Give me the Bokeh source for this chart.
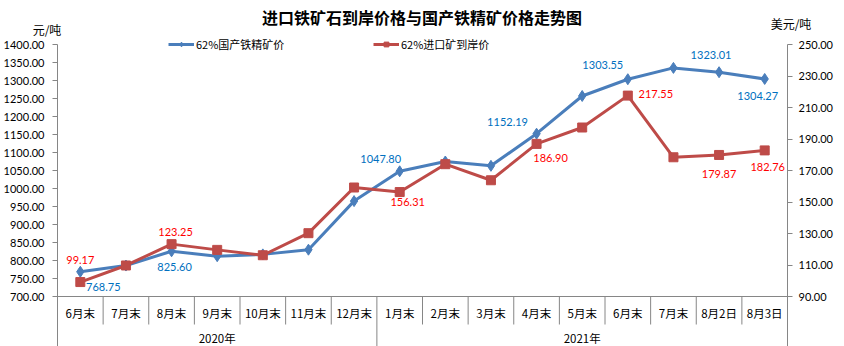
from bokeh.plotting import figure
from bokeh.layouts import column
from bokeh.models import (ColumnDataSource, FactorRange, Range1d, LinearAxis, FixedTicker,
                          NumeralTickFormatter, Span, Legend, LegendItem, Div)
from bokeh.embed import file_html
from bokeh.resources import INLINE
from bokeh.core.properties import value

# ---------------- data ----------------
title_text = "进口铁矿石到岸价格与国产铁精矿价格走势图"
years = ["2020年"] * 7 + ["2021年"] * 9
year_names = ["2020年", "2021年"]
months = ["6月末", "7月末", "8月末", "9月末", "10月末", "11月末", "12月末",
          "1月末", "2月末", "3月末", "4月末", "5月末", "6月末", "7月末", "8月2日", "8月3日"]
domestic = [768.75, 786.0, 825.60, 812.0, 817.0, 830.0, 965.0, 1047.80,
            1075.0, 1063.0, 1152.19, 1257.0, 1303.55, 1335.0, 1323.01, 1304.27]
imported = [99.17, 109.7, 123.25, 119.6, 116.2, 130.2, 159.2, 156.31,
            174.0, 163.8, 186.90, 197.3, 217.55, 178.4, 179.87, 182.76]
labeled_idx = [0, 2, 7, 10, 12, 14, 15]
left_ticks = list(range(700, 1401, 50))
right_ticks = list(range(90, 251, 20))
domestic_name = "62%国产铁精矿价"
imported_name = "62%进口矿到岸价"
left_unit = "元/吨"
right_unit = "美元/吨"

# ---------------- styling ----------------
BLUE = "#4A7EBB"
RED = "#BE4B48"
BLUE_TXT = "#0070C0"
RED_TXT = "#FF0000"
GRAY = "#868686"
CJK = "Noto Sans CJK SC"
NUM = "Lato"
W = 844
TOP_H = 36            # header strip height
MAIN_H = 346 - TOP_H  # main figure height (frame fills it vertically)
PAD_TOP = 44 - TOP_H  # px between frame top and the 1400 / 250 tick
PLOT_H = 252          # px from 700 to 1400
TABLE_H = 50          # category table height below the value axis
# label offsets in screen px (dx, dy; dy positive = downward)
dom_off = [(23, 15), (3, 16), (-19, -12), (-29, -12), (-25, -14), (-8, -17), (-7, 17)]
imp_off = [(0, -22), (4, -12), (8, 10), (14, 14), (28, -2), (0, 19), (3, 17)]

# ---------------- header strip (title + units) ----------------
def span(txt, left, width, top, size, bold=False, align="center"):
    return ('<span style="position:absolute;left:%dpx;width:%dpx;top:%dpx;line-height:%dpx;'
            'font-size:%dpx;font-weight:%s;text-align:%s;white-space:nowrap;color:#000;">%s</span>'
            % (left, width, top, size + 2, size, "bold" if bold else "normal", align, txt))

header_html = ('<div style="position:relative;width:%dpx;height:%dpx;font-family:\'%s\';">' % (W, TOP_H, CJK)
               + span(title_text, 0, W, 8, 16, bold=True)
               + span(left_unit, 17, 60, 23, 12)
               + span(right_unit, 761, 60, 17, 12)
               + '</div>')
header = Div(text=header_html, width=W, height=TOP_H, margin=0,
             styles={"overflow": "visible"})

# ---------------- main chart ----------------
factors = list(zip(years, months))
x_range = FactorRange(*factors, factor_padding=0, group_padding=0, range_padding=0)

lk = 700 / PLOT_H
rk = 160 / PLOT_H
p = figure(width=W, height=MAIN_H, x_range=x_range,
           y_range=Range1d(700 - TABLE_H * lk, 1400 + PAD_TOP * lk),
           output_backend="svg", toolbar_location=None, x_axis_location=None,
           min_border_left=57, min_border_right=57, min_border_top=0, min_border_bottom=0,
           margin=0)
p.extra_y_ranges = {"usd": Range1d(90 - TABLE_H * rk, 250 + PAD_TOP * rk),
                    "tbl": Range1d(-TABLE_H, PLOT_H + PAD_TOP)}
p.grid.visible = False
p.outline_line_color = None

def style_axis(ax):
    ax.axis_line_color = GRAY
    ax.major_tick_line_color = GRAY
    ax.major_tick_out = 5
    ax.major_tick_in = 0
    ax.minor_tick_line_color = None
    ax.major_label_text_font = NUM
    ax.major_label_text_font_size = "11px"
    ax.major_label_text_color = "black"
    ax.major_label_standoff = 8
    ax.formatter = NumeralTickFormatter(format="0.00")

p.yaxis.ticker = FixedTicker(ticks=left_ticks)
style_axis(p.yaxis[0])
p.yaxis.bounds = (700 - TABLE_H * lk, 1400)
ax_r = LinearAxis(y_range_name="usd", ticker=FixedTicker(ticks=right_ticks),
                  bounds=(90 - TABLE_H * rk, 250))
style_axis(ax_r)
ax_r.major_label_standoff = 6
p.add_layout(ax_r, "right")

# category axis line
p.add_layout(Span(location=700, dimension="width", line_color=GRAY, line_width=1))

# category table separators
sep_x, sep_y0, sep_y1 = [], [], []
for i in range(1, len(months)):
    sep_x.append((years[i], months[i], -0.5))
    sep_y0.append(0)
    sep_y1.append(-TABLE_H if years[i] != years[i - 1] else -28)
p.segment(x0=sep_x, x1=sep_x, y0=sep_y0, y1=sep_y1, y_range_name="tbl",
          line_color=GRAY, line_width=1)
p.text(x=factors, y=[-16] * len(months), text=months, y_range_name="tbl",
       text_font=value(CJK), text_font_size="11.5px", text_align="center",
       text_baseline="middle", text_color="black")
p.text(x=year_names, y=[-41] * 2, text=year_names, y_range_name="tbl",
       text_font=value(CJK), text_font_size="11.5px", text_align="center",
       text_baseline="middle", text_color="black")

# series
src = ColumnDataSource(dict(x=factors, dom=domestic, imp=imported))
l1 = p.line("x", "dom", source=src, line_color=BLUE, line_width=3)
s1 = p.scatter("x", "dom", source=src, marker="diamond", size=11, fill_color=BLUE, line_color=BLUE)
l2 = p.line("x", "imp", source=src, y_range_name="usd", line_color=RED, line_width=3)
s2 = p.scatter("x", "imp", source=src, y_range_name="usd", marker="square", size=9,
               fill_color=RED, line_color=RED)

# data labels
dsrc = ColumnDataSource(dict(
    x=[factors[i] for i in labeled_idx], y=[domestic[i] for i in labeled_idx],
    t=["%.2f" % domestic[i] for i in labeled_idx],
    dx=[o[0] for o in dom_off], dy=[o[1] for o in dom_off]))
p.text(x="x", y="y", text="t", x_offset="dx", y_offset="dy", source=dsrc,
       text_font=value(NUM), text_font_size="11px", text_color=BLUE_TXT,
       text_align="center", text_baseline="middle")
isrc = ColumnDataSource(dict(
    x=[factors[i] for i in labeled_idx], y=[imported[i] for i in labeled_idx],
    t=["%.2f" % imported[i] for i in labeled_idx],
    dx=[o[0] for o in imp_off], dy=[o[1] for o in imp_off]))
p.text(x="x", y="y", text="t", x_offset="dx", y_offset="dy", source=isrc, y_range_name="usd",
       text_font=value(NUM), text_font_size="11px", text_color=RED_TXT,
       text_align="center", text_baseline="middle")

# legends (centred just below the 1400 line)
leg_vy = MAIN_H - PAD_TOP - 8
for name, rends, vx in [(domestic_name, [l1, s1], 111), (imported_name, [l2, s2], 316)]:
    lg = Legend(items=[LegendItem(label=name, renderers=rends)], location=(vx, leg_vy),
                orientation="horizontal", padding=0, margin=0, border_line_color=None,
                background_fill_alpha=0, glyph_width=26, glyph_height=12, label_height=12,
                label_standoff=2, label_text_font=CJK, label_text_font_size="11px",
                label_text_color="black", label_text_baseline="middle")
    p.add_layout(lg)

layout = column(header, p, spacing=0)
open("out.html", "w").write(file_html(layout, INLINE))
